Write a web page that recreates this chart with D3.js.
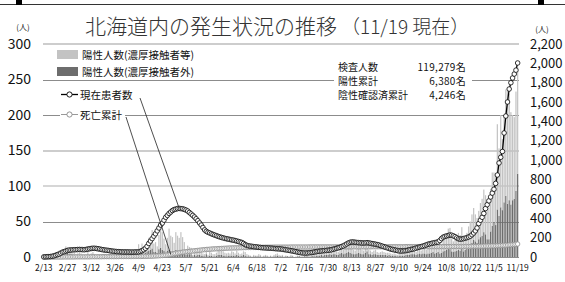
<!DOCTYPE html>
<html><head><meta charset="utf-8">
<script src="https://cdn.jsdelivr.net/npm/d3@7"></script>
<style>
html,body{margin:0;padding:0;background:#fff;}
svg{display:block;}
text{font-family:"Noto Sans CJK JP","Noto Sans",sans-serif;}
</style></head>
<body><svg id="c" width="565" height="282"></svg>
<script>
// ---------- DATA ----------
const tickLabels = ["2/13","2/27","3/12","3/26","4/9","4/23","5/7","5/21","6/4","6/18","7/2","7/16","7/30","8/13","8/27","9/10","9/24","10/8","10/22","11/5","11/19"];
const leftTicks = [0,50,100,150,200,250,300];
const rightTicks = [0,200,400,600,800,1000,1200,1400,1600,1800,2000,2200];
const seriesNames = ["陽性人数(濃厚接触者等)","陽性人数(濃厚接触者外)","現在患者数","死亡累計"];
const infoLabels = ["検査人数","陽性累計","陰性確認済累計"];
const infoValues = ["119,279名","6,380名","4,246名"];

// 現在患者数 (right axis), daily from 2/13 to 11/19
const current = [
 1,2,3,4,5,8,12,18,25,30,40,50,55,62,68,72,72,
 74,75,76,77,78,77,76,75,78,82,85,88,90,90,88,85,82,78,75,72,70,68,65,62,60,58,56,55,54,53,52,
 52,52,52,51,51,51,52,52,53,58,65,75,90,110,140,165,190,215,240,270,300,330,350,380,410,430,450,465,480,490,
 495,500,502,500,498,492,485,475,460,445,430,413,395,375,352,330,305,280,265,255,248,240,233,226,220,213,207,202,197,192,188,
 185,181,177,174,170,165,160,155,150,140,128,120,115,112,110,107,105,103,100,98,96,95,94,93,92,91,90,88,86,85,
 84,83,80,77,74,71,68,65,62,58,55,50,47,44,42,41,41,42,44,46,48,52,55,58,60,62,64,66,68,70,72,
 75,80,85,90,95,100,108,115,125,135,145,152,155,155,152,150,148,147,145,145,146,148,145,142,138,135,132,128,124,118,112,
 106,100,94,88,82,78,74,70,66,63,62,62,64,66,70,74,78,82,86,92,98,103,108,112,118,125,132,136,140,145,
 148,152,155,170,190,205,212,218,222,227,225,218,210,198,188,185,186,190,195,200,207,215,230,248,270,300,345,380,410,450,500,
 540,580,620,660,700,760,847,971,1030,1090,1281,1456,1601,1735,1800,1849,1890,1930,2004
];
// 死亡累計 (right axis)
const deaths = [
 0,0,0,0,0,0,0,0,0,0,0,0,1,1,1,1,1,
 1,1,2,2,2,2,2,2,2,2,2,3,3,3,3,3,3,3,4,4,4,4,4,4,4,4,4,4,5,5,5,
 5,5,5,5,5,6,6,6,6,6,6,7,7,7,8,8,9,10,11,12,13,14,15,17,19,21,24,27,31,35,
 38,41,44,47,50,52,54,56,58,60,62,64,66,68,70,72,74,76,78,79,80,82,83,84,85,86,87,88,89,90,91,
 92,93,93,94,94,95,95,96,96,97,97,98,98,98,99,99,99,100,100,100,100,100,101,101,101,101,101,102,102,102,
 102,102,102,102,102,102,102,103,103,103,103,103,103,103,103,103,103,103,104,104,104,104,104,104,104,104,104,104,104,104,104,
 104,104,104,104,104,105,105,105,105,105,105,105,105,105,105,105,105,105,105,105,105,105,105,105,106,106,106,106,106,106,106,
 106,106,106,106,106,106,106,106,106,106,106,106,106,107,107,107,107,107,107,107,107,107,107,107,107,107,107,107,107,107,
 107,107,107,107,107,107,107,107,107,107,108,108,108,108,108,108,108,108,109,109,109,109,110,110,110,110,111,111,112,112,113,
 113,114,114,115,115,116,117,118,119,120,121,122,123,125,126,128,129,131,134
];
// 陽性人数(濃厚接触者等) (left axis)
const contact = [
 0,0,0,0,0,0,1,0,1,4,0,1,2,6,5,4,3,
 2,3,1,2,3,2,0,1,1,3,1,2,3,2,1,1,1,0,0,1,0,0,0,0,1,1,0,1,0,0,1,
 1,1,2,3,3,2,5,5,10,7,12,5,10,10,18,15,26,12,14,9,20,32,25,17,12,18,30,22,20,14,
 25,22,20,25,20,15,7,12,10,9,2,7,6,9,8,6,3,3,9,2,6,4,3,3,4,12,6,9,6,4,4,
 4,3,6,5,3,6,4,3,3,5,5,3,2,1,1,2,1,1,3,2,1,1,2,1,1,1,1,2,3,3,
 2,1,2,1,1,0,1,2,1,0,1,1,0,1,1,0,2,1,1,2,1,2,3,2,3,2,3,4,3,4,5,
 4,5,6,5,4,7,8,6,7,9,10,8,7,6,5,6,8,7,6,5,9,15,6,5,4,5,6,4,3,4,5,
 4,3,4,3,3,2,3,2,2,3,3,2,3,4,3,4,5,6,5,4,6,7,5,6,8,6,7,8,9,10,
 8,10,12,9,10,18,20,22,28,30,18,15,16,20,24,22,30,20,18,22,28,32,40,45,38,35,40,48,52,60,55,
 40,45,60,75,70,70,120,95,130,100,120,150,160,150,130,120,115,140,150
];
// 陽性人数(濃厚接触者外) (left axis)
const nonContact = [
 0,1,0,0,0,0,1,1,2,5,1,2,2,9,7,4,4,
 3,3,2,3,3,3,1,1,1,4,1,3,4,2,1,1,2,1,1,1,0,0,0,1,1,2,1,2,0,1,1,
 2,1,2,2,3,2,4,4,8,5,7,5,6,8,9,10,12,7,7,6,11,13,10,9,6,9,10,8,8,6,
 10,8,7,10,8,6,3,4,4,4,1,3,2,3,3,2,2,1,4,1,2,2,1,1,2,3,3,3,2,2,1,
 2,2,2,2,2,3,2,1,2,3,2,1,1,1,0,1,1,1,1,1,0,1,1,1,0,1,0,1,1,2,
 1,1,1,0,1,1,0,1,1,0,0,1,1,0,0,1,1,1,0,1,2,1,2,2,2,3,2,3,3,3,4,
 3,4,4,3,3,5,6,4,5,6,7,6,5,4,4,5,6,5,4,4,6,8,4,4,3,4,4,3,3,3,3,
 3,3,2,3,2,2,2,2,1,2,2,2,2,3,3,3,4,4,4,3,4,5,4,5,5,4,5,5,6,7,
 5,6,7,5,6,8,9,10,12,11,8,7,8,9,10,9,12,8,10,12,15,18,20,24,22,20,25,28,30,35,32,
 25,25,36,44,49,45,67,58,70,66,77,86,75,80,74,80,82,93,117
];

// ---------- CHART ----------
const svg = d3.select("#c");
const N = current.length;
const days = d3.range(N);
const x = d3.scaleBand().domain(days).range([43, 518.5]);
const xc = i => x(i) + x.bandwidth()/2;
const yL = d3.scaleLinear().domain([0,300]).range([257,44]);
const yR = d3.scaleLinear().domain([0,2200]).range([257,44]);

const lightC = "#c3c3c3", darkC = "#6d6d6d";
const numFont = "Liberation Sans, Arial, sans-serif";

// frame at top
svg.append("line").attr("x1",0).attr("x2",565).attr("y1",4.5).attr("y2",4.5).attr("stroke","#333").attr("stroke-width",1);
svg.append("rect").attr("x",16).attr("y",0).attr("width",6).attr("height",5).attr("fill","#000");
svg.append("rect").attr("x",538).attr("y",0).attr("width",6).attr("height",5).attr("fill","#000");

// gridlines
const gridStyle = {0:["#8c8c8c",1],50:["#8c8c8c",1],100:["#d6d6d6",2],150:["#cdcdcd",2],200:["#8c8c8c",1],250:["#8c8c8c",1],300:["#cdcdcd",2]};
svg.append("g").selectAll("line").data(leftTicks).join("line")
  .attr("x1",43).attr("x2",519)
  .attr("y1",d=>Math.round(yL(d))+(gridStyle[d][1]===1?0.5:0))
  .attr("y2",d=>Math.round(yL(d))+(gridStyle[d][1]===1?0.5:0))
  .attr("stroke",d=>gridStyle[d][0]).attr("stroke-width",d=>gridStyle[d][1]);

// bars (stacked: non-contact bottom, contact top)
const bw = x.bandwidth()*0.72;
const gb = svg.append("g");
gb.selectAll("rect.d").data(days).join("rect").attr("class","d")
  .attr("x",i=>xc(i)-bw/2).attr("width",bw)
  .attr("y",i=>yL(nonContact[i])).attr("height",i=>yL(0)-yL(nonContact[i]))
  .attr("fill",darkC);
gb.selectAll("rect.l").data(days).join("rect").attr("class","l")
  .attr("x",i=>xc(i)-bw/2).attr("width",bw)
  .attr("y",i=>yL(nonContact[i]+contact[i])).attr("height",i=>yL(nonContact[i])-yL(nonContact[i]+contact[i]))
  .attr("fill",lightC);

// death line
const gd = svg.append("g");
gd.append("path").datum(days).attr("fill","none").attr("stroke","#999").attr("stroke-width",1)
  .attr("d",d3.line().x(xc).y(i=>yR(deaths[i])));
gd.selectAll("circle").data(days).join("circle")
  .attr("cx",xc).attr("cy",i=>yR(deaths[i])).attr("r",2.2)
  .attr("fill","#fff").attr("stroke","#8a8a8a").attr("stroke-width",0.8);

// current patients line
const gc = svg.append("g");
gc.append("path").datum(days).attr("fill","none").attr("stroke","#000").attr("stroke-width",1.3)
  .attr("d",d3.line().x(xc).y(i=>yR(current[i])));
gc.selectAll("circle").data(days).join("circle")
  .attr("cx",xc).attr("cy",i=>yR(current[i])).attr("r",2.3)
  .attr("fill","#fff").attr("stroke","#111").attr("stroke-width",0.85);

// axes
const axL = svg.append("g").attr("transform","translate(43,0)")
  .call(d3.axisLeft(yL).tickValues(leftTicks).tickSize(0).tickPadding(12));
axL.select(".domain").remove();
axL.selectAll("text").attr("font-size",14).attr("fill","#111").attr("font-family",numFont);

const axR = svg.append("g").attr("transform","translate(519,0)")
  .call(d3.axisRight(yR).tickValues(rightTicks).tickSize(0).tickPadding(11).tickFormat(d3.format(",")));
axR.select(".domain").remove();
axR.selectAll("text").attr("font-size",13).attr("fill","#111").attr("font-family",numFont);

const tickIdx = tickLabels.map((t,k)=>k*14);
const axB = svg.append("g").attr("transform","translate(0,263)")
  .call(d3.axisBottom(x).tickValues(tickIdx).tickSize(0).tickPadding(2).tickFormat((d,k)=>tickLabels[k]));
axB.select(".domain").remove();
axB.selectAll("text").attr("font-size",8.5).attr("fill","#111").attr("font-family",numFont);

// unit labels
svg.append("text").attr("x",23).attr("y",30).attr("text-anchor","middle").attr("font-size",8).attr("fill","#222").text("(人)");
svg.append("text").attr("x",542).attr("y",32).attr("text-anchor","middle").attr("font-size",8).attr("fill","#222").text("(人)");

// title
const title = svg.append("text").attr("x",85).attr("y",34).attr("font-size",21).attr("font-weight",300).attr("fill","#333");
title.append("tspan").text("北海道内の発生状況の推移");
title.append("tspan").attr("dx",4).attr("font-size",19).text("（11/19 現在）");

// legend
const lg = svg.append("g").attr("font-size",10.5).attr("fill","#111");
lg.append("rect").attr("x",57).attr("y",50).attr("width",21).attr("height",9).attr("fill",lightC);
lg.append("text").attr("x",82).attr("y",58.5).text(seriesNames[0]);
lg.append("rect").attr("x",57).attr("y",67).attr("width",21).attr("height",9).attr("fill",darkC);
lg.append("text").attr("x",82).attr("y",76).text(seriesNames[1]);
lg.append("rect").attr("x",60).attr("y",88).attr("width",78).attr("height",13).attr("fill","#fff");
lg.append("line").attr("x1",61).attr("x2",78).attr("y1",94.5).attr("y2",94.5).attr("stroke","#000").attr("stroke-width",1.3);
lg.append("circle").attr("cx",69.5).attr("cy",94.5).attr("r",2.6).attr("fill","#fff").attr("stroke","#000").attr("stroke-width",0.9);
lg.append("text").attr("x",80).attr("y",98.5).text(seriesNames[2]);
lg.append("rect").attr("x",60).attr("y",108).attr("width",65).attr("height",13).attr("fill","#fff");
lg.append("line").attr("x1",61).attr("x2",78).attr("y1",114.5).attr("y2",114.5).attr("stroke","#999").attr("stroke-width",1);
lg.append("circle").attr("cx",69.5).attr("cy",114.5).attr("r",2.6).attr("fill","#fff").attr("stroke","#888").attr("stroke-width",0.9);
lg.append("text").attr("x",80).attr("y",118.5).text(seriesNames[3]);

// leader lines to series
const peakIdx = d3.maxIndex(current.slice(0,120));
const deathIdx = 75;
svg.append("line").attr("x1",140).attr("y1",98).attr("x2",xc(peakIdx)).attr("y2",yR(current[peakIdx]))
  .attr("stroke","#222").attr("stroke-width",0.8);
svg.append("line").attr("x1",126).attr("y1",117).attr("x2",xc(deathIdx)).attr("y2",yR(deaths[deathIdx]))
  .attr("stroke","#222").attr("stroke-width",0.8);

// info box
const ib = svg.append("g").attr("font-size",10).attr("fill","#111");
ib.append("rect").attr("x",334).attr("y",57).attr("width",138).attr("height",45).attr("fill","#fff");
infoLabels.forEach((t,k)=>{
  ib.append("text").attr("x",338).attr("y",70.5+k*14).text(t);
  ib.append("text").attr("x",466).attr("y",70.5+k*14).attr("text-anchor","end").attr("letter-spacing",0.3).text(infoValues[k]);
});
</script></body></html>
